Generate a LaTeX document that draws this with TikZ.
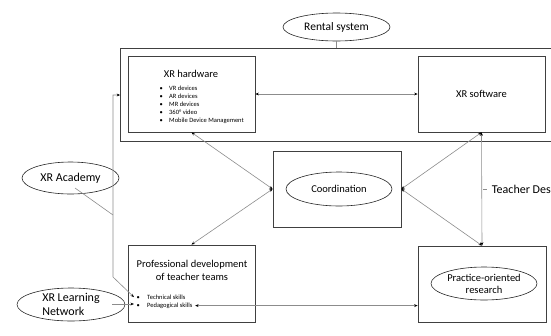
\documentclass[tikz,border=0pt]{standalone}
\usepackage{fontspec}
\setmainfont{Carlito}
\usetikzlibrary{arrows.meta,shapes.geometric,calc}
\begin{document}
\begin{tikzpicture}[x=1pt,y=-1pt,
  >={Stealth[length=3.4pt,width=2.8pt,color=black]},
  box/.style={draw=black!75,line width=0.8pt,rectangle,inner sep=0pt},
  oval/.style={draw=black!85,line width=0.6pt,ellipse,inner sep=0pt},
  conn/.style={draw=black!45,line width=0.6pt},
  title/.style={font=\fontsize{10.5}{13}\selectfont,inner sep=0pt},
  ovaltext/.style={font=\fontsize{12}{14}\selectfont},
  item/.style={anchor=base west,inner sep=0pt,font=\fontsize{6.5}{7.9}\selectfont},
]
\useasboundingbox (0,0) rectangle (551,335);
\clip (0,0) rectangle (551,335);

% platform frame (runs past the right edge)
\node[box,minimum width=479.5pt,minimum height=93pt] (platform) at (360.25,94.5) {};

% XR hardware
\node[box,minimum width=127pt,minimum height=76pt] (hw) at (191.5,94) {};
\node[title] (hwtitle) at (191,74) {XR hardware};
\node[item] (hw1) at (159.4,90.6) {\makebox[9.6pt][l]{\textbullet}VR devices};
\node[item] (hw2) at (159.4,98.5) {\makebox[9.6pt][l]{\textbullet}AR devices};
\node[item] (hw3) at (159.4,106.4) {\makebox[9.6pt][l]{\textbullet}MR devices};
\node[item] (hw4) at (159.4,114.3) {\makebox[9.6pt][l]{\textbullet}360° video};
\node[item] (hw5) at (159.4,122.2) {\makebox[9.6pt][l]{\textbullet}Mobile Device Management};

% XR software
\node[box,title,minimum width=127pt,minimum height=76pt] (sw) at (481.5,94) {XR software};

% Coordination
\node[box,minimum width=128pt,minimum height=76pt] (coordbox) at (337,189) {};
\node[oval,title,minimum width=106pt,minimum height=34pt] (coord) at (339,189) {Coordination};

% Professional development
\node[box,minimum width=127pt,minimum height=77pt] (prof) at (191.5,283.5) {};
\node[title,align=center] (proftitle) at (192,270.5) {Professional development\\of teacher teams};
\node[item] (tech) at (136.4,299.3) {\makebox[10.6pt][l]{\textbullet}Technical skills};
\node[item] (ped) at (136.4,307.3) {\makebox[10.6pt][l]{\textbullet}Pedagogical skills};

% Practice-oriented research
\node[box,minimum width=128pt,minimum height=76pt] (practice) at (482,284) {};
\node[oval,title,align=center,minimum width=106pt,minimum height=33pt,font=\fontsize{10.5}{12.2}\selectfont] (research) at (484,283.5) {Practice-oriented\\research};

% surrounding ovals
\node[oval,ovaltext,minimum width=107pt,minimum height=28pt,font=\fontsize{11.5}{13}\selectfont] (rental) at (336.5,27) {Rental system};
\node[oval,ovaltext,minimum width=97pt,minimum height=32pt] (academy) at (70.5,178) {XR Academy};
\node[oval,ovaltext,align=left,minimum width=108pt,minimum height=33pt] (network) at (71,304.5) {XR Learning\\Network};

% connectors
\draw[conn,<->] (hw.east) -- (sw.west);
\draw[conn,<->] (coordbox.west) -- (hw.south);
\draw[conn,<->] (coordbox.west) -- (prof.north);
\draw[conn,<->] (coordbox.east) -- (sw.south);
\draw[conn,<->] (coordbox.east) -- (practice.north);
\draw[conn,<->] (sw.south) -- (practice.north);
\draw[conn] (rental.south) -- (rental.south |- platform.north);
\draw[conn,<->] ([xshift=2.5pt]ped.east) -- (ped.east -| practice.west);

% XR Academy rail
\coordinate (acadfoot) at (75,188);
\coordinate (railtop) at (113,95);
\coordinate (railjoin) at (113,215);
\coordinate (railbot) at (113,277);
\coordinate (techin) at ([xshift=-2.5pt]tech.west);
\draw[conn,<->] (railtop -| platform.west) -- (railtop) -- (railbot) -- (techin);
\draw[conn] (acadfoot) -- (railjoin);

% XR Learning Network link
\coordinate (netfoot) at (112,304);
\coordinate (pedin) at ([xshift=-2.5pt]ped.west);
\draw[conn,->] (netfoot) -- (netfoot -| pedin);

% Teacher design teams label
\coordinate (tdmid) at ($(sw.south)!0.5!(practice.north)$);
\draw[conn] ([xshift=1.5pt]tdmid) -- ([xshift=5pt]tdmid);
\node[anchor=west,inner sep=0pt,ovaltext] (tdt) at ([xshift=10pt]tdmid) {Teacher Des};
\end{tikzpicture}
\end{document}
